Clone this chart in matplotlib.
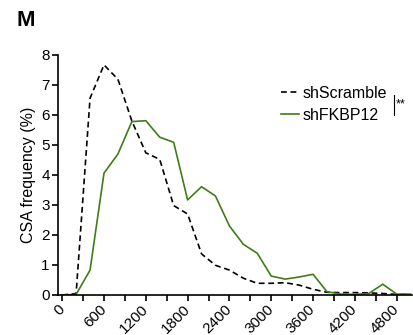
import numpy as np
import matplotlib
matplotlib.use("Agg")
import matplotlib.pyplot as plt
from matplotlib.ticker import MultipleLocator

plt.rcParams['font.family'] = ['Liberation Sans', 'DejaVu Sans']

# CSA bins (um^2) and frequencies (%)
csa_bins = [0, 200, 400, 600, 800, 1000, 1200, 1400, 1600, 1800, 2000, 2200, 2400,
            2600, 2800, 3000, 3200, 3400, 3600, 3800, 4000, 4200, 4400, 4600, 4800, 5000]
sh_scramble = [0.0, 0.05, 6.56, 7.67, 7.19, 5.8, 4.74, 4.52, 2.98, 2.7, 1.37, 0.99, 0.83,
               0.56, 0.39, 0.39, 0.41, 0.33, 0.19, 0.09, 0.08, 0.08, 0.07, 0.05, 0.02, 0.01]
sh_fkbp12 = [0.0, 0.02, 0.83, 4.06, 4.7, 5.78, 5.81, 5.26, 5.09, 3.17, 3.61, 3.3, 2.3,
             1.69, 1.39, 0.63, 0.53, 0.6, 0.69, 0.11, 0.03, 0.02, 0.05, 0.36, 0.03, 0.03]
xtick_labels = [0, 600, 1200, 1800, 2400, 3000, 3600, 4200, 4800]

green = '#3f7d17'

fig = plt.figure(figsize=(4.13, 3.35), dpi=100)
ax = fig.add_axes([58 / 413, 40 / 335, 354 / 413, 240 / 335])

ax.plot(csa_bins, sh_scramble, color='black', lw=1.2, dashes=(3.5, 2.2),
        label='shScramble')
ax.plot(csa_bins, sh_fkbp12, color=green, lw=1.2, label='shFKBP12')

ax.set_xlim(-60, 5020)
ax.set_ylim(0, 8)
ax.set_xticks(xtick_labels)
ax.set_xticklabels([str(v) for v in xtick_labels], rotation=45, ha='right',
                   va='center', rotation_mode='anchor')
ax.xaxis.set_minor_locator(MultipleLocator(300))
ax.set_yticks(range(0, 9))
ax.tick_params(axis='both', which='both', direction='out', length=4, width=1.2,
               labelsize=11, pad=2)
ax.tick_params(axis='x', pad=5)
ax.set_ylabel('CSA frequency (%)', fontsize=11.5, labelpad=4)

for side in ('top', 'right'):
    ax.spines[side].set_visible(False)
for side in ('left', 'bottom'):
    ax.spines[side].set_linewidth(1.2)

leg = ax.legend(loc='upper left', bbox_to_anchor=(281 / 413, 1 - 86 / 335),
                bbox_transform=fig.transFigure, frameon=False, fontsize=11.5,
                handlelength=1.1, handletextpad=0.25, labelspacing=0.42,
                borderpad=0, borderaxespad=0)

# significance bracket
fig.add_artist(plt.Line2D([394 / 413, 394 / 413], [1 - 95 / 335, 1 - 115 / 335],
                          color='black', lw=0.8))
fig.text(396 / 413, 1 - 104 / 335, '**', fontsize=9, ha='left', va='center')

fig.text(17 / 413, 1 - 20 / 335, 'M', fontsize=16, fontweight='bold',
         ha='left', va='center')

fig.savefig('out.png', dpi=100)
